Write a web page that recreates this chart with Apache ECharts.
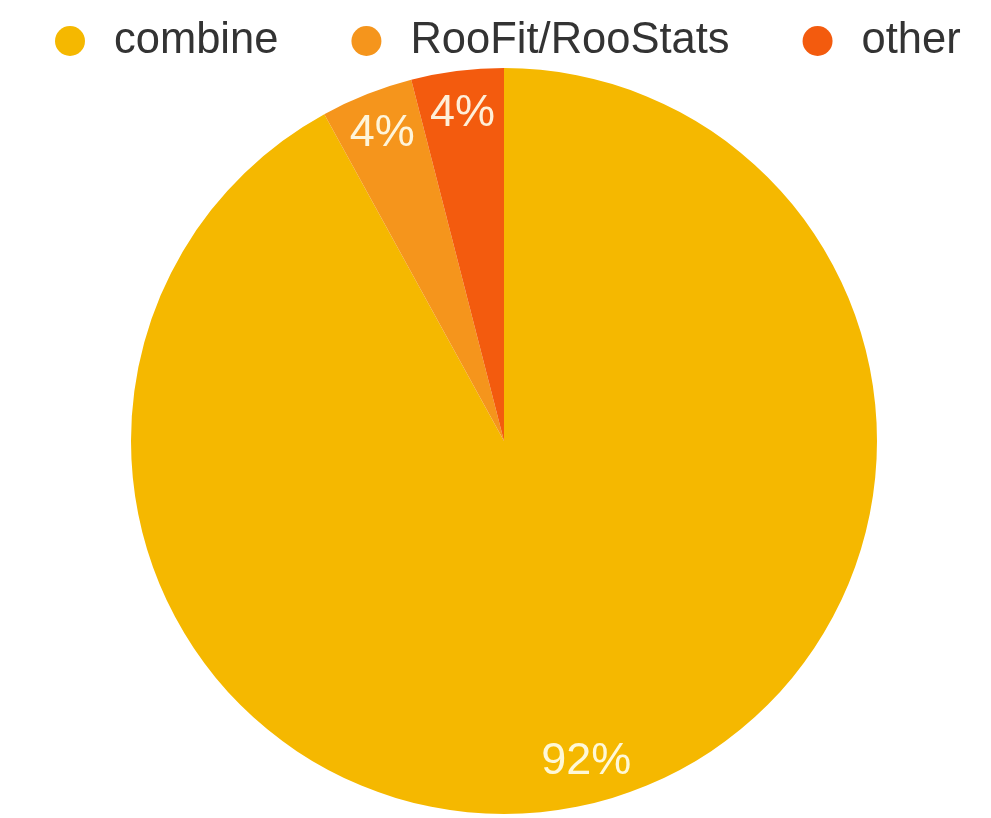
<!DOCTYPE html>
<html>
<head>
<meta charset="utf-8">
<script src="https://cdn.jsdelivr.net/npm/echarts@6/dist/echarts.min.js"></script>
<style>
html,body{margin:0;padding:0;background:#fff;}
#chart{width:991px;height:818px;}
</style>
</head>
<body>
<div id="chart"></div>
<script>
const categories = ['combine', 'RooFit/RooStats', 'other'];
const values = [92, 4, 4];
const colors = ['#F5B800', '#F5951C', '#F35B0E'];

const data = categories.map((name, i) => ({ name: name, value: values[i] }));

const chart = echarts.init(document.getElementById('chart'));
chart.setOption({
  animation: false,
  color: colors,
  legend: {
    top: 14,
    left: 50,
    icon: 'circle',
    itemWidth: 30,
    itemHeight: 30,
    itemGap: 73,
    textStyle: {
      fontFamily: 'Liberation Sans, Arial, sans-serif',
      fontSize: 43.5,
      color: '#333',
      padding: [0, 0, 0, 24]
    },
    data: categories
  },
  series: [
    {
      name: 'main',
      type: 'pie',
      center: [504, 441],
      radius: [0, 373],
      startAngle: 90,
      clockwise: true,
      data: data,
      label: { show: false },
      labelLine: { show: false },
      itemStyle: { borderWidth: 0 },
      emphasis: { disabled: true }
    },
    {
      name: 'labels',
      type: 'pie',
      center: [504, 441],
      radius: [282, 373],
      startAngle: 90,
      clockwise: true,
      silent: true,
      data: data,
      itemStyle: { color: 'rgba(0,0,0,0)', borderWidth: 0 },
      label: {
        show: true,
        position: 'inside',
        formatter: p => Math.round(p.percent) + '%',
        color: 'rgba(255,255,240,0.9)',
        fontFamily: 'Liberation Sans, Arial, sans-serif',
        fontSize: 45
      },
      labelLine: { show: false },
      emphasis: { disabled: true }
    }
  ]
});
</script>
</body>
</html>
